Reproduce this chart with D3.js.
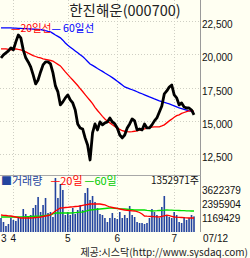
<!DOCTYPE html>
<html>
<head>
<meta charset="utf-8">
<script src="https://cdn.jsdelivr.net/npm/d3@7"></script>
<style>
  html, body { margin: 0; padding: 0; background: #fffff2; }
  svg { display: block; }
  text { font-family: "Liberation Sans", Arial, "Noto Sans CJK KR", sans-serif; }
  .kr { font-family: "Noto Sans CJK KR", "Liberation Sans", sans-serif; }
</style>
</head>
<body>
<svg id="chart" width="250" height="258"></svg>
<script>
// daily closes, 3/?? .. 07/12
var closes = [19720, 19950, 20100, 20250, 20480, 20330, 20930, 21450, 21230, 20330,
    19730, 19420, 19050, 18450, 17770, 18070, 18670, 19200, 19420, 19420,
    19270, 18600, 17620, 17170, 16190, 16420, 16720, 16940, 16570, 16340,
    15810, 14760, 14460, 14380, 13710, 13180, 12050, 14080, 14760, 14310,
    14910, 14690, 14840, 14910, 15210, 14910, 14760, 14460, 13930, 13710,
    13930, 14460, 14760, 15140, 14990, 14310, 14380, 14310, 14760, 14460,
    14460, 14690, 14990, 15210, 15660, 16110, 17020, 17240, 17540, 17690,
    16940, 16720, 16190, 16340, 16040, 15960, 15960, 15810, 15440];

var ma20 = [20400, 20400, 20400, 20360, 20330, 20360, 20400, 20360, 20330, 20250,
    20180, 20080, 19990, 19900, 19830, 19770, 19720, 19660, 19620, 19580,
    19530, 19480, 19360, 19240, 19120, 18900, 18670, 18470, 18260, 18060,
    17860, 17650, 17420, 17200, 16970, 16740, 16520, 16290, 16010, 15770,
    15550, 15330, 15130, 14970, 14840, 14700, 14570, 14440, 14350, 14250,
    14210, 14180, 14160, 14180, 14210, 14240, 14290, 14340, 14380, 14440,
    14480, 14520, 14540, 14540, 14540, 14610, 14690, 14840, 14990, 15120,
    15260, 15380, 15440, 15550, 15620, 15680, 15740, 15740, 15720];

var ma60 = [21980, 21980, 21980, 21980, 21980, 21970, 21960, 21950, 21940, 21930,
    21920, 21910, 21900, 21890, 21880, 21870, 21860, 21820, 21770, 21720,
    21680, 21570, 21450, 21340, 21230, 21060, 20850, 20670, 20530, 20390,
    20250, 20110, 19970, 19830, 19650, 19460, 19270, 19160, 19050, 18930,
    18820, 18710, 18590, 18480, 18360, 18240, 18110, 17970, 17830, 17690,
    17540, 17470, 17400, 17330, 17260, 17180, 17100, 17030, 16950, 16870,
    16790, 16720, 16640, 16570, 16490, 16430, 16380, 16320, 16270, 16190,
    16120, 16040, 15960, 15910, 15850, 15790, 15740, 15700, 15660];

// volume, thousands of shares
var volumes = [1213, 866, 520, 693, 1213, 1039, 953, 1213, 1213, 1992,
    1559, 1299, 1473, 2079, 2339, 3032, 1732, 2339, 2945, 1646,
    1732, 1299, 4678, 2945, 4158, 3638, 1473, 1732, 1473, 2079,
    1559, 1906, 2339, 1906, 3378, 3811, 2772, 3118, 2599, 2079,
    1559, 1473, 1213, 866, 1213, 1646, 1213, 1126, 1732, 1213,
    1473, 1213, 2252, 1473, 1299, 866, 780, 780, 693, 780,
    1213, 1992, 1732, 1473, 1213, 2166, 3118, 1473, 1299, 1213,
    1732, 1473, 866, 780, 1299, 1039, 1213, 1473, 1353];

var volMa20 = [1473, 1447, 1429, 1403, 1386, 1343, 1299, 1256, 1213, 1213,
    1213, 1213, 1213, 1230, 1256, 1273, 1299, 1343, 1386, 1429,
    1473, 1646, 1819, 1949, 2079, 2096, 2122, 2140, 2166, 2183,
    2209, 2226, 2252, 2296, 2339, 2382, 2425, 2425, 2425, 2425,
    2425, 2382, 2339, 2252, 2166, 2122, 2079, 2036, 1992, 1949,
    1906, 1880, 1862, 1836, 1819, 1758, 1689, 1559, 1386, 1369,
    1360, 1343, 1325, 1317, 1299, 1351, 1403, 1455, 1421, 1360,
    1299, 1282, 1273, 1256, 1239, 1230, 1213, 1213, 1213];

var volMa60 = [1299, 1299, 1299, 1299, 1299, 1299, 1299, 1299, 1299, 1308,
    1321, 1334, 1343, 1351, 1364, 1377, 1386, 1408, 1429, 1451,
    1473, 1559, 1646, 1646, 1646, 1646, 1646, 1646, 1646, 1663,
    1680, 1698, 1715, 1732, 1784, 1845, 1906, 1927, 1949, 1971,
    1992, 2014, 2036, 2057, 2079, 2062, 2053, 2036, 2018, 2010,
    1992, 1971, 1949, 1927, 1906, 1906, 1906, 1906, 1906, 1871,
    1845, 1819, 1836, 1845, 1862, 1880, 1888, 1906, 1897, 1888,
    1880, 1871, 1862, 1854, 1845, 1836, 1828, 1819, 1819];

var monthIndex = [0, 5, 27, 47, 70];
var monthLabels = ['3', '4', '5', '6', '7'];
var priceTicks = [12500, 15000, 17500, 20000, 22500];
var volTicks = [1169429, 2395904, 3622379];
var lastVolume = '1352971주';
var lastDate = '07/12';
var title = '한진해운(000700)';
var source = '제공:시스닥(http://www.sysdaq.com)';

var svg = d3.select('#chart');
var axisX = 200.5;

var x = d3.scaleLinear()
    .domain([0, closes.length - 1])
    .range([1, 194]);

var yPrice = d3.scaleLinear()
    .domain([12500, 22500])
    .range([154, 21]);

var yVol = d3.scaleLinear()
    .domain([0, 4848854])
    .range([232, 176]);

// Grid
svg.append('g')
    .selectAll('line')
    .data(priceTicks)
    .join('line')
    .attr('x1', 0).attr('x2', axisX)
    .attr('y1', function(d) { return Math.round(yPrice(d)) + 0.5; })
    .attr('y2', function(d) { return Math.round(yPrice(d)) + 0.5; })
    .attr('stroke', '#cfcfc4')
    .attr('stroke-dasharray', '1,2');

svg.append('g')
    .selectAll('line')
    .data(monthIndex.slice(1))
    .join('line')
    .attr('x1', function(d) { return Math.round(x(d)) + 0.5; })
    .attr('x2', function(d) { return Math.round(x(d)) + 0.5; })
    .attr('y1', 0).attr('y2', 232)
    .attr('stroke', '#cfcfc4')
    .attr('stroke-dasharray', '1,2');

// Frame lines
svg.append('line')
    .attr('x1', axisX).attr('x2', axisX)
    .attr('y1', 0).attr('y2', 232)
    .attr('stroke', '#9a9a9a');

svg.append('line')
    .attr('x1', 0).attr('x2', axisX)
    .attr('y1', 175.5).attr('y2', 175.5)
    .attr('stroke', '#a8a8a8');

// Volume bars
svg.append('g')
    .selectAll('rect')
    .data(volumes)
    .join('rect')
    .attr('x', function(d, i) { return x(i) - 0.8; })
    .attr('y', function(d) { return yVol(d * 1000); })
    .attr('width', 1.6)
    .attr('height', function(d) { return 232 - yVol(d * 1000); })
    .attr('fill', '#24449f');

function line(yScale, mult) {
    return d3.line()
        .x(function(d, i) { return x(i); })
        .y(function(d) { return yScale(d * mult); });
}

svg.append('path').datum(volMa60)
    .attr('d', line(yVol, 1000))
    .attr('fill', 'none').attr('stroke', '#00dd00').attr('stroke-width', 1.3);

svg.append('path').datum(volMa20)
    .attr('d', line(yVol, 1000))
    .attr('fill', 'none').attr('stroke', '#ff0000').attr('stroke-width', 1.3);

// Price lines
svg.append('path').datum(ma60)
    .attr('d', line(yPrice, 1))
    .attr('fill', 'none').attr('stroke', '#0000ff').attr('stroke-width', 1.3);

svg.append('path').datum(ma20)
    .attr('d', line(yPrice, 1))
    .attr('fill', 'none').attr('stroke', '#ff0000').attr('stroke-width', 1.3);

svg.append('path').datum(closes)
    .attr('d', line(yPrice, 1))
    .attr('fill', 'none').attr('stroke', '#000')
    .attr('stroke-width', 2.8)
    .attr('stroke-linejoin', 'round');

// Right axis labels
svg.append('g')
    .selectAll('text')
    .data(priceTicks)
    .join('text')
    .attr('x', 202)
    .attr('y', function(d) { return yPrice(d) + 7; })
    .attr('font-size', 10)
    .attr('fill', '#111')
    .text(d3.format(','));

svg.append('g')
    .selectAll('text')
    .data(volTicks)
    .join('text')
    .attr('x', 202)
    .attr('y', function(d) { return yVol(d) + 4; })
    .attr('font-size', 10)
    .attr('fill', '#111')
    .text(function(d) { return d; });

// Month labels
svg.append('g')
    .selectAll('text')
    .data(monthIndex)
    .join('text')
    .attr('x', function(d, i) { return i === 0 ? 1 : x(d); })
    .attr('y', 242)
    .attr('text-anchor', function(d, i) { return i === 0 ? 'start' : 'middle'; })
    .attr('font-size', 10)
    .attr('fill', '#111')
    .text(function(d, i) { return monthLabels[i]; });

svg.append('text')
    .attr('x', 203).attr('y', 242)
    .attr('font-size', 10).attr('fill', '#111')
    .text(lastDate);

// Title
svg.append('text')
    .attr('class', 'kr')
    .attr('x', 125).attr('y', 16)
    .attr('text-anchor', 'middle')
    .attr('font-size', 14.5)
    .attr('fill', '#222')
    .text(title);

// Price legend
var lg = svg.append('text')
    .attr('class', 'kr')
    .attr('x', 11).attr('y', 32)
    .attr('font-size', 10.5);
lg.append('tspan').attr('fill', '#ff0000').text('—20일선');
lg.append('tspan').attr('fill', '#0000ff').text('— 60일선');

// Volume legend
var vl = svg.append('text')
    .attr('class', 'kr')
    .attr('x', 1).attr('y', 185)
    .attr('font-size', 11);
vl.append('tspan').attr('fill', '#24449f').text('■거래량');
vl.append('tspan').attr('fill', '#ff0000').attr('dx', 8).text('—20일');
vl.append('tspan').attr('fill', '#00cc00').attr('dx', 2).text('—60일');

svg.append('text')
    .attr('class', 'kr')
    .attr('x', 199).attr('y', 184)
    .attr('text-anchor', 'end')
    .attr('font-size', 10)
    .attr('fill', '#111')
    .text(lastVolume);

// Source
svg.append('text')
    .attr('class', 'kr')
    .attr('x', 248).attr('y', 256)
    .attr('text-anchor', 'end')
    .attr('font-size', 10)
    .attr('fill', '#222')
    .text(source);
</script>
</body>
</html>
